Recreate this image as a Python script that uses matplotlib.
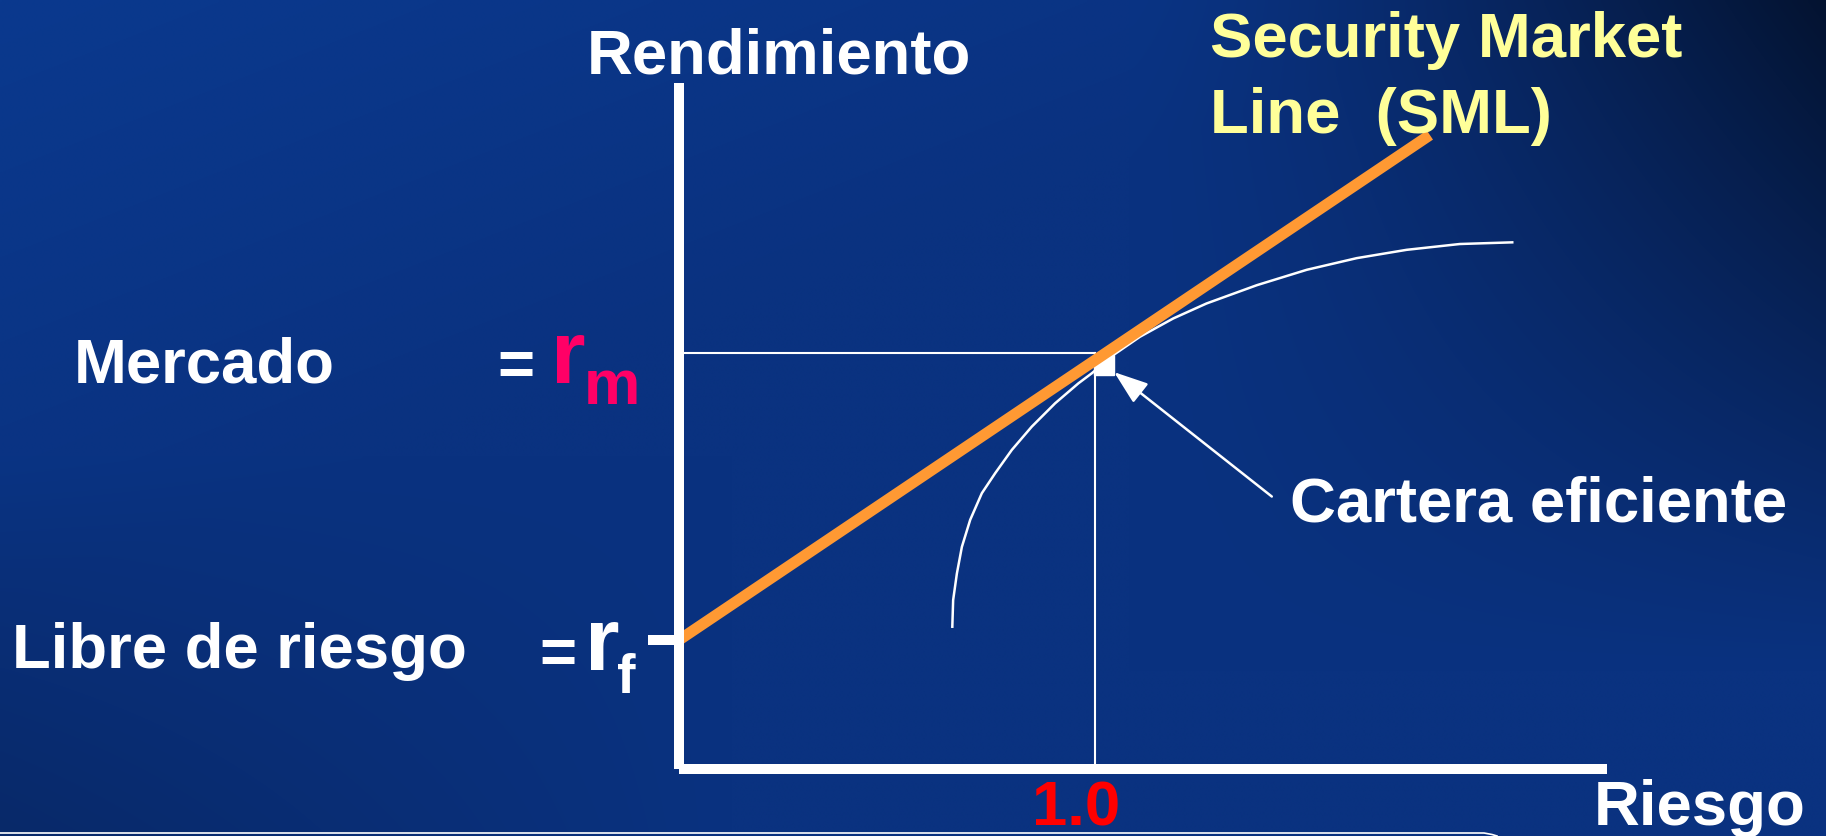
import numpy as np
import matplotlib.pyplot as plt
from matplotlib.lines import Line2D

plt.rcParams['font.family'] = ['Liberation Sans', 'DejaVu Sans']

W, H = 1826, 836

# riesgo (beta) y rendimiento (%)
rf = 3.1
rm = 10.0
beta_m = 1.0
beta_max = 2.23
ret_max = 16.5
sml_beta = [0.0, 1.805]
sml_ret = [rf, 15.24]
eff_beta = [0.657, 0.659, 0.668, 0.680, 0.700, 0.728, 0.760, 0.800, 0.848,
            0.904, 0.960, 0.992, 1.044, 1.108, 1.188, 1.268, 1.389, 1.509,
            1.629, 1.749, 1.877, 2.003]
eff_ret = [3.42, 4.06, 4.70, 5.34, 5.99, 6.63, 7.11, 7.67, 8.23,
           8.79, 9.27, 9.51, 9.95, 10.39, 10.83, 11.19, 11.63, 12.00,
           12.28, 12.48, 12.62, 12.66]
cartera_beta = 1.022
cartera_ret = 9.71
arrow_from = (1.425, 6.55)

# placement of the plot inside the slide (pixels)
x0_px, y0_px, px_beta, px_ret = 679, 769, 416, 41.6

fig = plt.figure(figsize=(W / 100, H / 100), dpi=100)
ax = fig.add_axes([0, 0, 1, 1])
xlim = (-x0_px / px_beta, (W - x0_px) / px_beta)
ylim = (-(H - y0_px) / px_ret, y0_px / px_ret)
ax.set_xlim(xlim)
ax.set_ylim(ylim)
ax.axis('off')

# slide background: blue gradient, darker at top right
gx, gy = np.meshgrid(np.linspace(0, 1, 460), np.linspace(0, 1, 210))
base = np.array([10, 50, 128]) / 255.0
bright = np.array([10, 57, 142]) / 255.0
mix = np.clip(1 - (gx * 1.2 + gy * 1.4), 0, 1)[..., None]
img = base * (1 - mix) + bright * mix
dark = (np.clip((gx - 0.62) / 0.38, 0, 1) ** 1.4) * np.clip(1 - gy * 1.25, 0, 1)
dark2 = np.clip((0.4 - gx) / 0.4, 0, 1) * np.clip((gy - 0.55) / 0.45, 0, 1)
img = img * (1 - 0.62 * dark[..., None]) * (1 - 0.18 * dark2[..., None])
ax.imshow(img, extent=(xlim[0], xlim[1], ylim[0], ylim[1]), aspect='auto',
          interpolation='bilinear', zorder=0)

# guide lines to the market portfolio
ax.plot([0, beta_m], [rm, rm], color='white', lw=1.5, zorder=2)
ax.plot([beta_m, beta_m], [0, rm], color='white', lw=1.5, zorder=2)

# efficient frontier
ax.plot(eff_beta, eff_ret, color='white', lw=1.8, zorder=3)
ax.plot(cartera_beta, cartera_ret, marker='s', ms=15, color='white', zorder=4)

# SML
ax.plot(sml_beta, sml_ret, color='#FF9933', lw=8, solid_capstyle='butt', zorder=5)

# axes
ax.plot([0, 0], [0, ret_max], color='white', lw=7.2, solid_capstyle='butt', zorder=6)
ax.plot([0, beta_max], [0, 0], color='white', lw=7.2, solid_capstyle='butt', zorder=6)
ax.plot([-0.075, 0], [rf, rf], color='white', lw=7.2, solid_capstyle='butt', zorder=6)

ax.annotate('', xy=(cartera_beta + 0.024, cartera_ret - 0.17), xytext=arrow_from,
            arrowprops=dict(arrowstyle='-|>,head_length=2.1,head_width=0.75',
                            color='white', lw=1.8, shrinkA=0, shrinkB=0), zorder=7)


def put(x, y, s, size=45.7, color='white'):
    fig.text(x / W, 1 - y / H, s, fontsize=size, color=color, fontweight='bold',
             ha='left', va='baseline')


put(587, 73, 'Rendimiento')
put(1210, 57, 'Security Market', color='#FFFF99')
put(1210, 133, 'Line  (SML)', color='#FFFF99')
put(74, 383, 'Mercado')
put(497, 385, '=')
put(551, 383, 'r', size=64, color='#FF0066')
put(584, 404, 'm', color='#FF0066')
put(12, 668, 'Libre de riesgo')
put(539, 673, '=')
put(585, 670, 'r', size=64)
put(617, 693, 'f', size=40)
put(1290, 522, 'Cartera eficiente')
put(1032, 825, '1.0', color='#FF0000')
put(1594, 825, 'Riesgo')

# thin border at the bottom of the slide
fig.add_artist(Line2D(np.array([0, 1484, 1492, 1497]) / W,
                      1 - np.array([833, 833, 834.5, 836]) / H,
                      transform=fig.transFigure, color='white', lw=1.2))

fig.savefig('out.png', dpi=100)
